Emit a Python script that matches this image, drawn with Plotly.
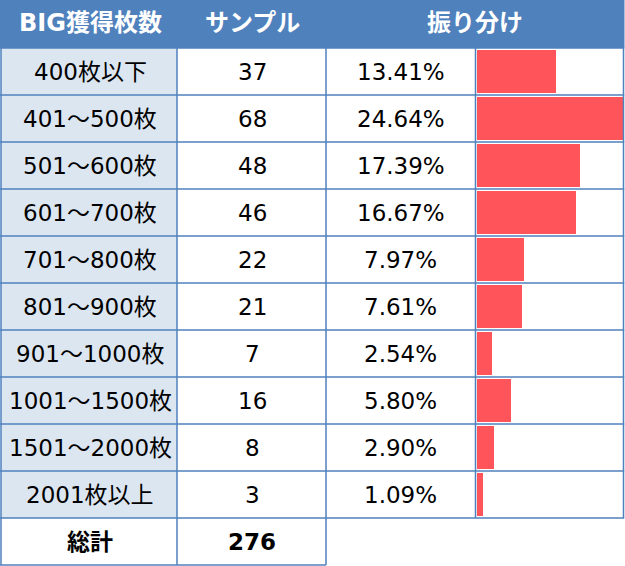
import plotly.graph_objects as go

# ---- data ----
header = ["BIG獲得枚数", "サンプル", "振り分け"]
categories = ["400枚以下", "401～500枚", "501～600枚", "601～700枚", "701～800枚",
              "801～900枚", "901～1000枚", "1001～1500枚", "1501～2000枚", "2001枚以上"]
samples = [37, 68, 48, 46, 22, 21, 7, 16, 8, 3]
percents = [13.41, 24.64, 17.39, 16.67, 7.97, 7.61, 2.54, 5.80, 2.90, 1.09]
total_label = "総計"
total_value = 276

# ---- layout geometry (pixels) ----
W, H = 625, 566
BLUE = "#4F81BD"
LIGHT = "#DCE6F1"
BAR = "#FF545A"
FONT = "DejaVu Sans, Noto Sans CJK JP, sans-serif"
x_cols = [1, 177, 326, 475.5, 623.5]
head_bot = 48
row_h = 47
n = len(categories)

def px(x):
    return x / W

def py(y):
    return 1 - y / H

# y axis in row units: row r centred at pixel 71.5 + 47 r
y_top = (0 - (head_bot + row_h / 2)) / row_h
y_bot = (H - (head_bot + row_h / 2)) / row_h

rows = list(range(n))

fig = go.Figure()
fig.add_trace(go.Bar(
    x=percents, y=rows, orientation="h", xaxis="x2", yaxis="y",
    marker=dict(color=BAR, line=dict(width=0)), width=43 / 47,
    hoverinfo="skip", showlegend=False,
))

shapes = []
shapes.append(dict(type="rect", xref="paper", yref="paper", x0=0, x1=px(624.5),
                   y0=py(0), y1=py(head_bot), fillcolor=BLUE, line=dict(width=0), layer="below"))
shapes.append(dict(type="rect", xref="paper", yref="paper", x0=px(x_cols[0]), x1=px(x_cols[1]),
                   y0=py(head_bot), y1=py(head_bot + n * row_h), fillcolor=LIGHT,
                   line=dict(width=0), layer="below"))
ln = dict(color=BLUE, width=1.5)
for k in range(n + 1):
    yy = head_bot + k * row_h
    shapes.append(dict(type="line", xref="paper", yref="paper", x0=px(0), x1=px(624.2),
                       y0=py(yy), y1=py(yy), line=ln))
yb = head_bot + (n + 1) * row_h
shapes.append(dict(type="line", xref="paper", yref="paper", x0=px(0), x1=px(x_cols[2]),
                   y0=py(yb), y1=py(yb), line=ln))
for i, xx in enumerate(x_cols):
    bottom = yb if i <= 2 else head_bot + n * row_h
    shapes.append(dict(type="line", xref="paper", yref="paper", x0=px(xx), x1=px(xx),
                       y0=py(head_bot), y1=py(bottom), line=ln))

ann = []
centers = [90, 252, 401]
hdr_x = [90, 252, 475]
for t, cx in zip(header, hdr_x):
    ann.append(dict(text=f"<b>{t}</b>", x=px(cx), y=py(23), xref="paper", yref="paper",
                    showarrow=False, font=dict(color="white", size=24, family=FONT),
                    xanchor="center", yanchor="middle"))
for r, (c, s, p) in enumerate(zip(categories, samples, percents)):
    for txt, cx in zip([c, str(s), f"{p:.2f}%"], centers):
        ann.append(dict(text=txt, x=px(cx), y=r, xref="paper", yref="y", showarrow=False,
                        font=dict(color="black", size=23, family=FONT),
                        xanchor="center", yanchor="middle"))
for txt, cx in zip([total_label, str(total_value)], centers[:2]):
    ann.append(dict(text=f"<b>{txt}</b>", x=px(cx), y=n, xref="paper", yref="y", showarrow=False,
                    font=dict(color="black", size=23, family=FONT),
                    xanchor="center", yanchor="middle"))

fig.update_layout(
    width=W, height=H, margin=dict(l=0, r=0, t=0, b=0),
    paper_bgcolor="white", plot_bgcolor="rgba(0,0,0,0)",
    xaxis=dict(visible=False, range=[0, 1], domain=[0, 1]),
    xaxis2=dict(visible=False, range=[0, max(percents)], domain=[px(477), px(623)],
                anchor="y", overlaying="x"),
    yaxis=dict(visible=False, range=[y_bot, y_top], domain=[0, 1]),
    shapes=shapes, annotations=ann, bargap=0,
)
fig.write_html("out.html", config={"displayModeBar": False, "staticPlot": True},
               post_script="document.body.style.margin='0';document.body.style.overflow='hidden';")
